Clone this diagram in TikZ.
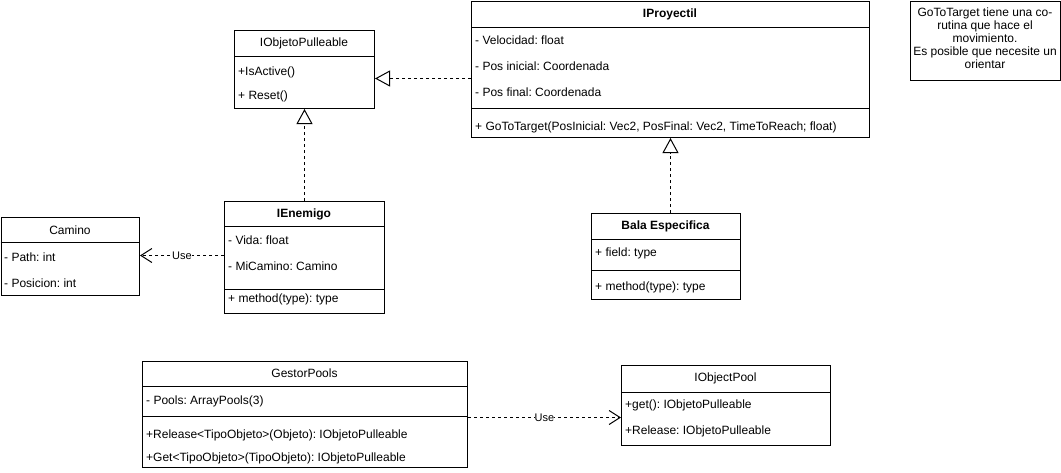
\documentclass[tikz,border=0pt]{standalone}
\usepackage{fontspec}
\setmainfont{Liberation Sans}
\frenchspacing
\usetikzlibrary{arrows.meta,calc}
\tikzset{
  box/.style={draw=black, line width=1pt, fill=white, inner sep=0pt, anchor=north west},
  attr/.style={anchor=west, inner sep=0pt, font=\fontsize{12pt}{14pt}\selectfont},
  head/.style={anchor=center, inner sep=0pt, font=\fontsize{12pt}{14pt}\selectfont},
  bhead/.style={anchor=center, inner sep=0pt, font=\fontsize{12pt}{14pt}\selectfont\bfseries},
  sepline/.style={line width=1pt},
  realize/.style={line width=1pt, dash pattern=on 3pt off 3pt, -{Triangle[open, length=15pt, width=16pt, line width=1pt]}},
  usedep/.style={line width=1pt, dash pattern=on 3pt off 3pt, -{Straight Barb[length=11pt, width=14pt, line width=1pt]}},
  uselbl/.style={fill=white, inner sep=0pt, font=\fontsize{11pt}{13pt}\selectfont}
}
\begin{document}
\begin{tikzpicture}[x=1pt, y=-1pt]
\useasboundingbox (0,0) rectangle (1061,472);

% IObjetoPulleable
\node[box, minimum width=140pt, minimum height=78pt] (pull) at (234,30) {};
\draw[sepline] (234,56) -- (374,56);
\node[head] (pullT) at (304,43) {IObjetoPulleable};
\node[attr] (pullA) at (238,72) {+IsActive()};
\node[attr] (pullB) at (238,96) {+ Reset()};

% IProyectil
\node[box, minimum width=398pt, minimum height=136pt] (proy) at (471,1) {};
\draw[sepline] (471,27) -- (869,27);
\draw[sepline] (471,108) -- (869,108);
\node[bhead] (proyT) at (670,14) {IProyectil};
\node[attr] (proyA) at (475,40) {- Velocidad: float};
\node[attr] (proyB) at (475,66) {- Pos inicial: Coordenada};
\node[attr] (proyC) at (475,92) {- Pos final: Coordenada};
\node[attr] (proyM) at (475,127) {+ GoToTarget(PosInicial: Vec2, PosFinal: Vec2, TimeToReach; float)};

% Note
\node[box, minimum width=150pt, minimum height=79pt] (note) at (910,1) {};
\node[align=center, inner sep=0pt, font=\fontsize{12pt}{13pt}\selectfont] (noteT) at (985,38)
  {GoToTarget tiene una co-\\rutina que hace el\\movimiento.\\Es posible que necesite un\\orientar};

% Camino
\node[box, minimum width=138.5pt, minimum height=78pt] (cam) at (0.5,217) {};
\draw[sepline] (0.5,242) -- (139,242);
\node[head] (camT) at (70,230) {Camino};
\node[attr] (camA) at (4,257) {- Path: int};
\node[attr] (camB) at (4,283) {- Posicion: int};

% IEnemigo
\node[box, minimum width=160pt, minimum height=112pt] (enem) at (224,201) {};
\draw[sepline] (224,226) -- (384,226);
\draw[sepline] (224,289) -- (384,289);
\node[bhead] (enemT) at (304,214) {IEnemigo};
\node[attr] (enemA) at (228,240) {- Vida: float};
\node[attr] (enemB) at (228,266) {- MiCamino: Camino};
\node[attr] (enemM) at (228,299) {+ method(type): type};

% Bala Especifica
\node[box, minimum width=149pt, minimum height=86pt] (bala) at (591,213) {};
\draw[sepline] (591,239) -- (740,239);
\draw[sepline] (591,270) -- (740,270);
\node[bhead] (balaT) at (665.5,226) {Bala Especifica};
\node[attr] (balaA) at (595,253) {+ field: type};
\node[attr] (balaM) at (595,287) {+ method(type): type};

% GestorPools
\node[box, minimum width=325pt, minimum height=106pt] (gest) at (142,361) {};
\draw[sepline] (142,386) -- (467,386);
\draw[sepline] (142,416) -- (467,416);
\node[head] (gestT) at (304.5,373) {GestorPools};
\node[attr] (gestA) at (146,401) {- Pools: ArrayPools(3)};
\node[attr] (gestB) at (146,435) {+Release<TipoObjeto>(Objeto): IObjetoPulleable};
\node[attr] (gestC) at (146,458) {+Get<TipoObjeto>(TipoObjeto): IObjetoPulleable};

% IObjectPool
\node[box, minimum width=209pt, minimum height=80pt] (pool) at (621,365) {};
\draw[sepline] (621,392) -- (830,392);
\node[head] (poolT) at (725.5,378) {IObjectPool};
\node[attr] (poolA) at (625,405) {+get(): IObjetoPulleable};
\node[attr] (poolB) at (625,431) {+Release: IObjetoPulleable};

% Connectors
\coordinate (c1) at ([yshift=-9pt]proy.west);
\draw[realize] (c1) -- (c1 -| pull.east);
\draw[realize] (enem.north) -- (pull.south);
\coordinate (c2) at (proy.south);
\draw[realize] (c2 |- bala.north) -- (c2);
\coordinate (c3) at ([yshift=2pt]enem.west);
\draw[usedep] (c3) -- (c3 -| cam.east) node[uselbl, midway] {Use};
\coordinate (c4) at ([yshift=-3pt]gest.east);
\draw[usedep] (c4) -- (c4 -| pool.west) node[uselbl, midway] {Use};
\end{tikzpicture}
\end{document}
